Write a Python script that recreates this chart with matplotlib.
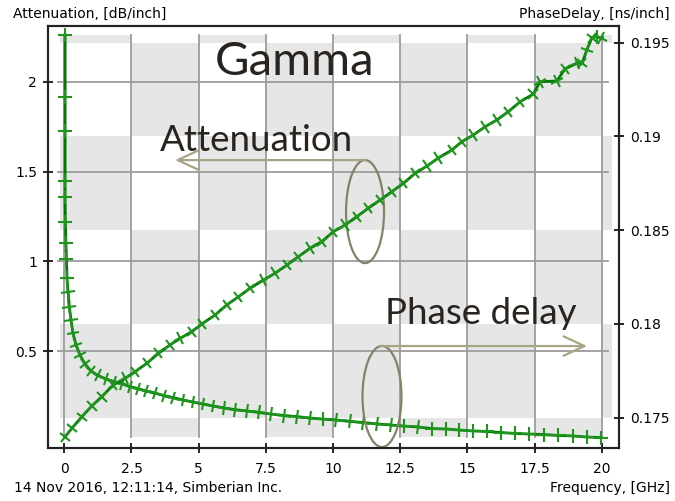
import matplotlib
matplotlib.use('Agg')
import numpy as np
import matplotlib.pyplot as plt
import matplotlib.transforms as mtransforms
from matplotlib.markers import MarkerStyle
from matplotlib.patches import Rectangle, Ellipse

# attenuation, dB/inch (left axis)
freq_att = [0.03, 0.03, 0.03, 0.03, 0.03, 0.04, 0.06, 0.08, 0.10, 0.14, 0.19, 0.25, 0.32, 0.44,
            0.58, 0.77, 0.99, 1.25, 1.55, 1.85, 2.15, 2.45, 2.74, 3.04, 3.38, 3.71, 4.05, 4.42,
            4.79, 5.16, 5.54, 5.94, 6.35, 6.80, 7.25, 7.69, 8.18, 8.66, 9.14, 9.63, 10.11, 10.63,
            11.12, 11.64, 12.16, 12.64, 13.16, 13.68, 14.20, 14.69, 15.21, 15.73, 16.25, 16.78,
            17.29, 17.85, 18.37, 18.93, 19.45, 19.97]
att = [2.261, 1.915, 1.726, 1.448, 1.358, 1.219, 1.102, 1.013, 0.907, 0.829, 0.745, 0.673, 0.600,
       0.534, 0.478, 0.428, 0.389, 0.364, 0.344, 0.330, 0.319, 0.302, 0.291, 0.277, 0.266, 0.252,
       0.241, 0.227, 0.216, 0.205, 0.194, 0.183, 0.174, 0.166, 0.158, 0.149, 0.141, 0.135, 0.127,
       0.121, 0.116, 0.108, 0.102, 0.094, 0.088, 0.082, 0.077, 0.068, 0.066, 0.060, 0.055, 0.052,
       0.046, 0.041, 0.038, 0.035, 0.030, 0.027, 0.021, 0.018]

# phase delay, ns/inch (right axis)
freq_pd = [0.03, 0.28, 0.65, 1.02, 1.39, 1.82, 2.26, 2.63, 3.07, 3.50, 3.93, 4.31, 4.74, 5.11,
           5.61, 6.04, 6.48, 6.91, 7.41, 7.84, 8.28, 8.71, 9.14, 9.58, 10.01, 10.45, 10.88, 11.31,
           11.75, 12.18, 12.62, 13.05, 13.49, 13.92, 14.42, 14.79, 15.22, 15.66, 16.09, 16.52,
           16.96, 17.45, 17.70, 18.33, 18.63, 19.07, 19.27, 19.44, 19.63, 19.81, 19.97]
phase = [0.17399, 0.17443, 0.17505, 0.17562, 0.17612, 0.17674, 0.17710, 0.17745, 0.17790,
         0.17843, 0.17888, 0.17923, 0.17959, 0.17999, 0.18048, 0.18101, 0.18145, 0.18190,
         0.18234, 0.18270, 0.18314, 0.18359, 0.18403, 0.18439, 0.18492, 0.18528, 0.18572,
         0.18617, 0.18661, 0.18705, 0.18750, 0.18803, 0.18842, 0.18885, 0.18928, 0.18972,
         0.19008, 0.19052, 0.19088, 0.19132, 0.19185, 0.19226, 0.19292, 0.19296, 0.19360,
         0.19390, 0.19392, 0.19461, 0.19525, 0.19533, 0.19523]

x_ticks = [0, 2.5, 5, 7.5, 10, 12.5, 15, 17.5, 20]
x_labels = ['0', '2.5', '5', '7.5', '10', '12.5', '15', '17.5', '20']
att_ticks = [0.5, 1, 1.5, 2]
att_labels = ['0.5', '1', '1.5', '2']
pd_ticks = [0.175, 0.18, 0.185, 0.19, 0.195]
pd_labels = ['0.175', '0.18', '0.185', '0.19', '0.195']

# shaded checkerboard cells
col_edges = [-0.16, 2.5, 5, 7.5, 10, 12.5, 15, 17.5, 20, 20.39]
row_edges = [0.17397, 0.175, 0.18, 0.185, 0.19, 0.195, 0.19541]

W, H = 675, 501
def fx(px):
    return px / W
def fy(py):
    return 1 - py / H

plt.rcParams['font.family'] = 'DejaVu Sans'
fig = plt.figure(figsize=(6.75, 5.01), dpi=100)
ax = fig.add_axes([fx(48), fy(448), (619 - 48) / W, (448 - 26) / H])
ax2 = ax.twinx()

ax.set_xlim(-0.607, 20.64)
ax.set_ylim(-0.040, 2.311)
ax2.set_ylim(0.173384, 0.195891)
ax.set_autoscale_on(False)
ax2.set_autoscale_on(False)

trans = mtransforms.blended_transform_factory(ax.transData, ax2.transData)
for i in range(len(col_edges) - 1):
    for j in range(len(row_edges) - 1):
        if (i + j) % 2 == 1:
            ax.add_patch(Rectangle((col_edges[i], row_edges[j]),
                                   col_edges[i + 1] - col_edges[i],
                                   row_edges[j + 1] - row_edges[j],
                                   transform=trans, facecolor='#e6e6e6',
                                   edgecolor='none', zorder=0))

grid_c = '#9c9c9c'
for xt in x_ticks:
    ax.plot([xt, xt], [row_edges[0], row_edges[-1]], transform=trans,
            color=grid_c, lw=1.3, zorder=1)
for yt in att_ticks:
    ax.plot([-0.22, 20.24], [yt, yt], color=grid_c, lw=1.3, zorder=1)


def curve(a, xs, ys):
    # line plus a cross tick at each point, turned to follow the curve
    a.plot(xs, ys, color='#007a00', lw=2, zorder=3)
    pts = a.transData.transform(np.column_stack([xs, ys]))
    n = len(xs)
    for k in range(n):
        p0 = pts[max(k - 1, 0)]
        p1 = pts[min(k + 1, n - 1)]
        ang = np.degrees(np.arctan2(p1[1] - p0[1], p1[0] - p0[0]))
        m = MarkerStyle('+', transform=mtransforms.Affine2D().rotate_deg(ang))
        a.plot([xs[k]], [ys[k]], linestyle='none', marker=m, ms=9.5, mew=1.5,
               mec='#1e961e', zorder=3)


curve(ax, freq_att, att)
curve(ax2, freq_pd, phase)

ax.set_xticks(x_ticks)
ax.set_xticklabels(x_labels)
ax.set_yticks(att_ticks)
ax.set_yticklabels(att_labels)
ax2.set_yticks(pd_ticks)
ax2.set_yticklabels(pd_labels)

for a in (ax, ax2):
    a.tick_params(direction='inout', length=7.2, width=1.2, labelsize=10, colors='black')
    for s in a.spines.values():
        s.set_linewidth(1.5)
        s.set_color('#222222')
ax.tick_params(axis='x', pad=6.5)
ax.tick_params(axis='y', pad=4.3)
ax2.tick_params(axis='y', pad=4.3)

# ellipses and arrows
ann_c = '#a8a486'
ell_c = '#85826a'
ax.add_patch(Ellipse((11.19, 1.277), 1.414, 0.574, fill=False, edgecolor=ell_c, lw=1.6, zorder=4))
ax.add_patch(Ellipse((11.82, 0.247), 1.45, 0.563, fill=False, edgecolor=ell_c, lw=1.6, zorder=4))
ax.annotate('', xy=(4.12, 1.564), xytext=(11.19, 1.564),
            arrowprops=dict(arrowstyle='->,head_length=0.75,head_width=0.35',
                            color=ann_c, lw=1.6, mutation_scale=20,
                            shrinkA=0, shrinkB=0), zorder=4)
ax.annotate('', xy=(19.45, 0.528), xytext=(11.75, 0.528),
            arrowprops=dict(arrowstyle='->,head_length=0.75,head_width=0.35',
                            color=ann_c, lw=1.6, mutation_scale=20,
                            shrinkA=0, shrinkB=0), zorder=4)

txt_c = '#2a241f'
fig.text(fx(295), fy(75), 'Gamma', fontsize=34, family='Lato', color=txt_c,
         ha='center', va='baseline')
fig.text(fx(160), fy(151), 'Attenuation', fontsize=26.5, family='Lato', color=txt_c,
         ha='left', va='baseline')
fig.text(fx(385), fy(324), 'Phase delay', fontsize=26.5, family='Lato', color=txt_c,
         ha='left', va='baseline')

fig.text(fx(13), fy(18), 'Attenuation, [dB/inch]', fontsize=10, ha='left', va='baseline')
fig.text(fx(670), fy(18), 'PhaseDelay, [ns/inch]', fontsize=10, ha='right', va='baseline')
fig.text(fx(14), fy(492), '14 Nov 2016, 12:11:14, Simberian Inc.', fontsize=10,
         ha='left', va='baseline')
fig.text(fx(670), fy(492), 'Frequency, [GHz]', fontsize=10, ha='right', va='baseline')

fig.savefig('out.png', dpi=100)
